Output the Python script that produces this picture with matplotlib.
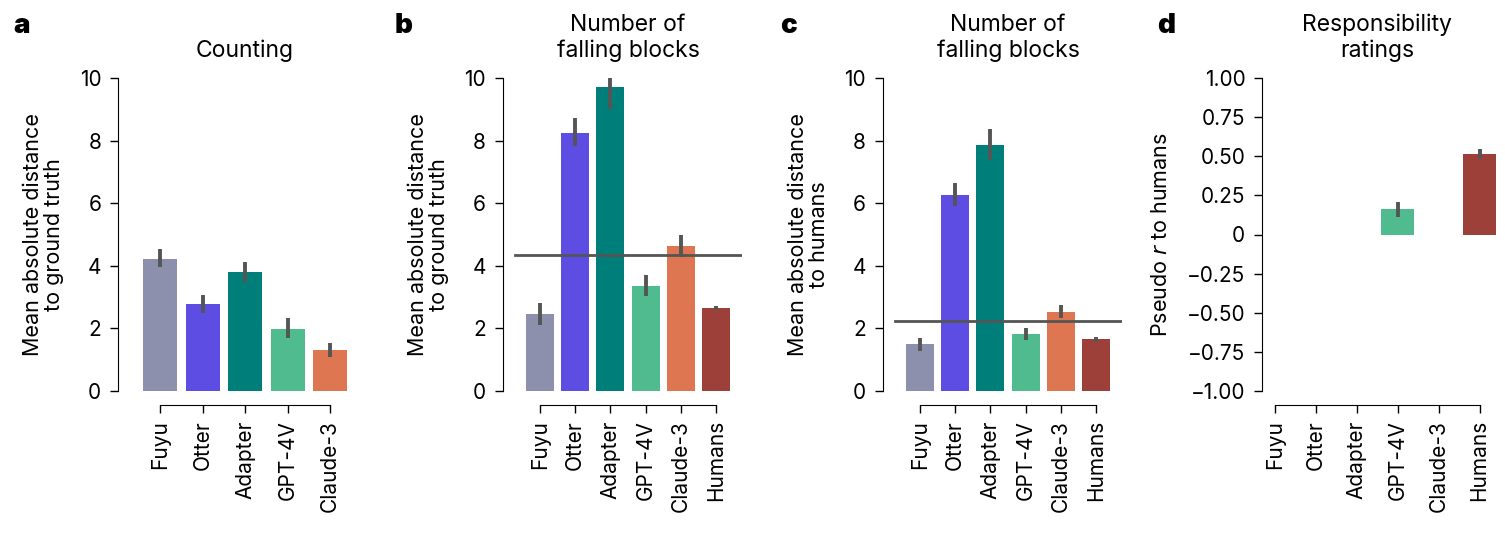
import numpy as np
import matplotlib
matplotlib.use('Agg')
from matplotlib import pyplot as plt

plt.rcParams['font.family'] = ['Inter', 'DejaVu Sans']

models = ['Fuyu', 'Otter', 'Adapter', 'GPT-4V', 'Claude-3', 'Humans']
colors = ['#8d90ad', '#5e4de2', '#007f7a', '#50bb8e', '#df7652', '#9e403a']

# a: counting, distance to ground truth
counting_mean = [4.23, 2.78, 3.81, 1.98, 1.31]
counting_lo = [3.97, 2.50, 3.49, 1.68, 1.10]
counting_hi = [4.55, 3.06, 4.13, 2.34, 1.52]

# b: falling blocks, distance to ground truth
blocks_gt_mean = [2.46, 8.24, 9.71, 3.36, 4.63, 2.64]
blocks_gt_lo = [2.11, 7.83, 9.02, 3.03, 4.29, 2.59]
blocks_gt_hi = [2.80, 8.72, 10.0, 3.70, 4.97, 2.71]
blocks_gt_ref = 4.34

# c: falling blocks, distance to humans
blocks_hum_mean = [1.49, 6.26, 7.85, 1.81, 2.51, 1.65]
blocks_hum_lo = [1.28, 5.90, 7.37, 1.63, 2.32, 1.57]
blocks_hum_hi = [1.68, 6.63, 8.38, 2.00, 2.74, 1.73]
blocks_hum_ref = 2.23

# d: responsibility ratings, pseudo r to humans
nan = np.nan
resp_mean = [nan, nan, nan, 0.162, nan, 0.517]
resp_lo = [nan, nan, nan, 0.113, nan, 0.485]
resp_hi = [nan, nan, nan, 0.209, nan, 0.549]

dist_ticks = [0, 2, 4, 6, 8, 10]
dist_labels = ['0', '2', '4', '6', '8', '10']
r_ticks = [1.0, 0.75, 0.5, 0.25, 0, -0.25, -0.5, -0.75, -1.0]
r_labels = ['1.00', '0.75', '0.50', '0.25', '0', '\u22120.25', '\u22120.50', '\u22120.75', '\u22121.00']

W, H = 1505, 533
fig = plt.figure(figsize=(W / 100, H / 100), dpi=100)

top_px, bot_px = 78, 391


def make_axes(left_px, spacing, xlim):
    width_px = (xlim[1] - xlim[0]) * spacing
    ax = fig.add_axes([left_px / W, 1 - bot_px / H, width_px / W, (bot_px - top_px) / H])
    ax.set_xlim(*xlim)
    return ax


def draw_panel(ax, names, mean, lo, hi, ylim, yticks, ylabels, ylabel, title, ref=None):
    n = len(names)
    x = np.arange(n)
    ax.bar(x, mean, width=0.8, color=colors[:n])
    ax.vlines(x, lo, hi, color='#555555', lw=2.8, clip_on=False, zorder=3)
    if ref is not None:
        ax.plot([-0.7, n - 0.3], [ref, ref], color='#555555', lw=2, zorder=1)
    ax.set_ylim(*ylim)
    ax.set_yticks(yticks)
    ax.set_yticklabels(ylabels)
    ax.set_xticks(x)
    ax.set_xticklabels(names)
    for s in ['top', 'right']:
        ax.spines[s].set_visible(False)
    ax.spines['bottom'].set_position(('outward', 10))
    ax.spines['bottom'].set_bounds(0, n - 1)
    ax.spines['left'].set_bounds(*ylim)
    ax.tick_params(axis='both', length=6, width=1, labelsize=15)
    ax.tick_params(axis='x', labelrotation=90, pad=5)
    ax.tick_params(axis='y', pad=6)
    ax.set_ylabel(ylabel, fontsize=15.5, labelpad=11, linespacing=1.1)
    x0, x1 = ax.get_xlim()
    ax.set_title(title, fontsize=16.5, x=((n - 1) / 2 - x0) / (x1 - x0), pad=15, linespacing=1.2)


ax_a = make_axes(118, 42.5, (-0.99, 4.5))
draw_panel(ax_a, models[:5], counting_mean, counting_lo, counting_hi, (0, 10), dist_ticks, dist_labels,
           'Mean absolute distance\nto ground truth', 'Counting')

ax_b = make_axes(502.7, 35.2, (-1.06, 5.75))
draw_panel(ax_b, models, blocks_gt_mean, blocks_gt_lo, blocks_gt_hi, (0, 10), dist_ticks, dist_labels,
           'Mean absolute distance\nto ground truth', 'Number of\nfalling blocks', ref=blocks_gt_ref)

ax_c = make_axes(882.7, 35.2, (-1.06, 5.75))
draw_panel(ax_c, models, blocks_hum_mean, blocks_hum_lo, blocks_hum_hi, (0, 10), dist_ticks, dist_labels,
           'Mean absolute distance\nto humans', 'Number of\nfalling blocks', ref=blocks_hum_ref)

ax_d = make_axes(1262, 40.9, (-0.32, 5.45))
draw_panel(ax_d, models, resp_mean, resp_lo, resp_hi, (-1, 1), r_ticks, r_labels,
           'Pseudo $r$ to humans', 'Responsibility\nratings')

for letter, lx in zip('abcd', [13, 395, 780, 1157]):
    fig.text(lx / W, 1 - 33 / H, letter, fontsize=20, fontweight='black', va='baseline', ha='left')

fig.savefig('out.png', dpi=100)
